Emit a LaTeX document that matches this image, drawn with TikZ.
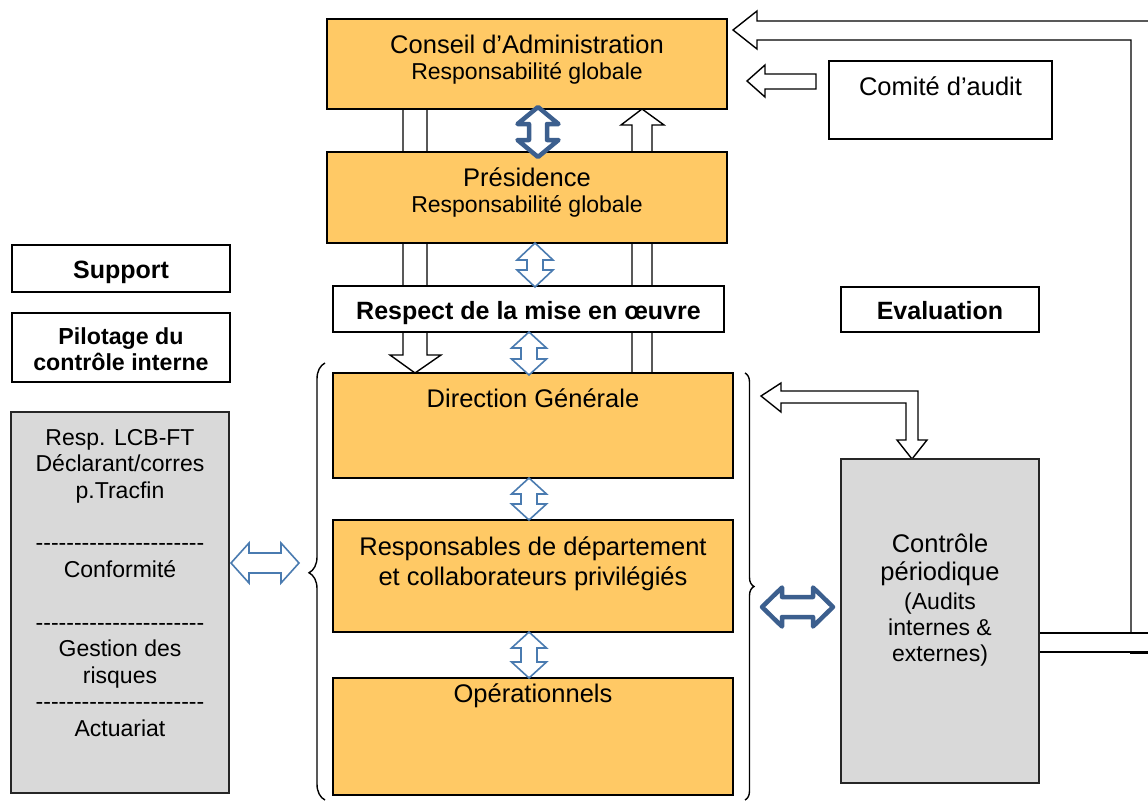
\documentclass[tikz,border=0pt]{standalone}
\usepackage{fontspec}
\setmainfont{Liberation Sans}
\usetikzlibrary{decorations.pathreplacing,calc}
\definecolor{orangebox}{HTML}{FFC965}
\definecolor{graybox}{HTML}{D9D9D9}
\definecolor{bluethin}{HTML}{4A7BB0}
\definecolor{bluebold}{HTML}{3C5F8E}
\newcommand\fzA{\fontsize{25.5}{30}\selectfont}
\newcommand\fzB{\fontsize{23}{27}\selectfont}
\newcommand\fzC{\bfseries\fontsize{25}{29}\selectfont}
\newcommand\fzD{\bfseries\fontsize{23.2}{27}\selectfont}
% vertical double block arrow: x, ytop, ybot, half shaft, half head, head length, style
\newcommand\myvda[7]{\draw[#7] (#1,#2) -- (#1+#5,#2+#6) -- (#1+#4,#2+#6) -- (#1+#4,#3-#6) -- (#1+#5,#3-#6) -- (#1,#3) -- (#1-#5,#3-#6) -- (#1-#4,#3-#6) -- (#1-#4,#2+#6) -- (#1-#5,#2+#6) -- cycle;}
% horizontal double block arrow: x1, x2, y, half shaft, half head, head length, style
\newcommand\myhda[7]{\draw[#7] (#1,#3) -- (#1+#6,#3-#5) -- (#1+#6,#3-#4) -- (#2-#6,#3-#4) -- (#2-#6,#3-#5) -- (#2,#3) -- (#2-#6,#3+#5) -- (#2-#6,#3+#4) -- (#1+#6,#3+#4) -- (#1+#6,#3+#5) -- cycle;}
\newcommand\dashrow{-{}-{}-{}-{}-{}-{}-{}-{}-{}-{}-{}-{}-{}-{}-{}-{}-{}-{}-{}-{}-{}-{}}
\begin{document}
\begin{tikzpicture}[x=1pt,y=-1pt,
 box/.style={draw=black, line width=1.6pt, inner sep=0pt},
 obox/.style={box, fill=orangebox},
 wbox/.style={box, fill=white},
 gbox/.style={box, draw=black!85, fill=graybox},
 tA/.style={anchor=base, inner sep=0pt, font=\fzA},
 tB/.style={anchor=base, inner sep=0pt, font=\fzB},
 tC/.style={anchor=base, inner sep=0pt, font=\fzC},
 tD/.style={anchor=base, inner sep=0pt, font=\fzD},
 blk/.style={draw=black, fill=white, line width=1.4pt, line join=miter},
 thinb/.style={draw=bluethin, fill=white, line width=1.6pt, line join=miter},
 boldb/.style={draw=bluebold, fill=white, line width=4.5pt, line join=round},
 brc/.style={draw=black, line width=1.4pt, decorate},
]
\useasboundingbox (0,0) rectangle (1148,803);

% ---- column block arrows (behind the boxes)
\draw[blk] (403,109) -- (427,109) -- (427,355) -- (441,355) -- (415,373) -- (390,355) -- (403,355) -- cycle;
\draw[blk] (632,373) -- (652,373) -- (652,125) -- (664,125) -- (642,109) -- (621,125) -- (632,125) -- cycle;

% ---- top feedback arrow from the right
\draw[blk] (1150,21) -- (757,21) -- (757,11) -- (733,30) -- (757,49) -- (757,40) -- (1131,40) -- (1131,633);
\draw[black, line width=1.4pt] (1039,633) -- (1150,633);
\draw[black, line width=1.4pt] (1039,652) -- (1150,652);
\draw[black, line width=3pt] (1130,652.5) -- (1150,652.5);

% ---- arrow from Comite d'audit
\draw[blk] (747,81) -- (765,65) -- (765,74) -- (816,74) -- (816,89) -- (765,89) -- (765,97) -- cycle;

% ---- elbow arrow between controle periodique and direction generale
\draw[blk] (761,396) -- (781,383) -- (781,391) -- (918,391) -- (918,440) -- (927,440) -- (912,459) -- (897,440) -- (906,440) -- (906,403) -- (781,403) -- (781,412) -- cycle;

% ---- boxes
\node[obox, minimum width=400, minimum height=90] (ca) at (527,64) {};
\node[obox, minimum width=400, minimum height=91] (pres) at (527,197.5) {};
\node[wbox, minimum width=391, minimum height=46] (resp) at (528.5,309) {};
\node[obox, minimum width=400, minimum height=105] (dg) at (533,425.5) {};
\node[obox, minimum width=400, minimum height=112] (rd) at (533,576) {};
\node[obox, minimum width=400, minimum height=117] (op) at (533,736.5) {};
\node[wbox, minimum width=218, minimum height=47] (sup) at (121,268.5) {};
\node[wbox, minimum width=218, minimum height=69] (pil) at (121,347.5) {};
\node[gbox, minimum width=218, minimum height=381] (gr) at (120,602.5) {};
\node[wbox, minimum width=223, minimum height=78] (com) at (940.5,100) {};
\node[wbox, minimum width=198, minimum height=45] (eva) at (940,309.5) {};
\node[gbox, minimum width=198, minimum height=324] (cp) at (940,621) {};

% ---- braces
\draw[brc, decoration={brace, amplitude=16pt, aspect=0.52}] (325,800) -- (325,363);
\draw[brc, decoration={brace, amplitude=9pt, aspect=0.5}] (745,373) -- (745,800);

% ---- blue double arrows
\myvda{538}{107}{157}{9}{20.5}{17}{boldb}
\myvda{535}{243}{287}{8}{18}{17}{thinb}
\myvda{529}{332}{375}{8}{17.5}{16}{thinb}
\myvda{529}{478}{520}{8}{17.5}{16}{thinb}
\myvda{529}{632}{678}{8}{17.5}{16}{thinb}
\myhda{231}{299}{563}{10}{20}{18}{thinb}
\myhda{762}{833}{607}{10}{19.5}{20}{boldb}

% ---- texts
\node[tA] (caT1) at (527,53) {Conseil d’Administration};
\node[tB] (caT2) at (527,79) {Responsabilité globale};
\node[tA] (prT1) at (527,186) {Présidence};
\node[tB] (prT2) at (527,212) {Responsabilité globale};
\node[tC] (rsT) at (528.5,319) {Respect de la mise en œuvre};
\node[tA] (dgT) at (533,407) {Direction Générale};
\node[tA] (rdT1) at (533,555) {Responsables de département};
\node[tA] (rdT2) at (533,585) {et collaborateurs privilégiés};
\node[tA] (opT) at (533,702) {Opérationnels};
\node[tC] (supT) at (121,278) {Support};
\node[tD] (pilT1) at (121,344) {Pilotage du};
\node[tD] (pilT2) at (121,370) {contrôle interne};
\node[tB] (g1) at (120,445) {Resp. LCB-FT};
\node[tB] (g2) at (120,471.5) {Déclarant/corres};
\node[tB] (g3) at (120,498) {p.Tracfin};
\node[tB] (g4) at (120,550.8) {\dashrow};
\node[tB] (g5) at (120,577.3) {Conformité};
\node[tB] (g6) at (120,630.2) {\dashrow};
\node[tB] (g7) at (120,656.6) {Gestion des};
\node[tB] (g8) at (120,683) {risques};
\node[tB] (g9) at (120,709.5) {\dashrow};
\node[tB] (g10) at (120,736) {Actuariat};
\node[tA] (comT) at (940.5,95) {Comité d’audit};
\node[tC] (evaT) at (940,319) {Evaluation};
\node[tA] (cpT1) at (940,552) {Contrôle};
\node[tA] (cpT2) at (940,580) {périodique};
\node[tB] (cpT3) at (940,609) {(Audits};
\node[tB] (cpT4) at (940,635) {internes \&};
\node[tB] (cpT5) at (940,661) {externes)};
\end{tikzpicture}
\end{document}
